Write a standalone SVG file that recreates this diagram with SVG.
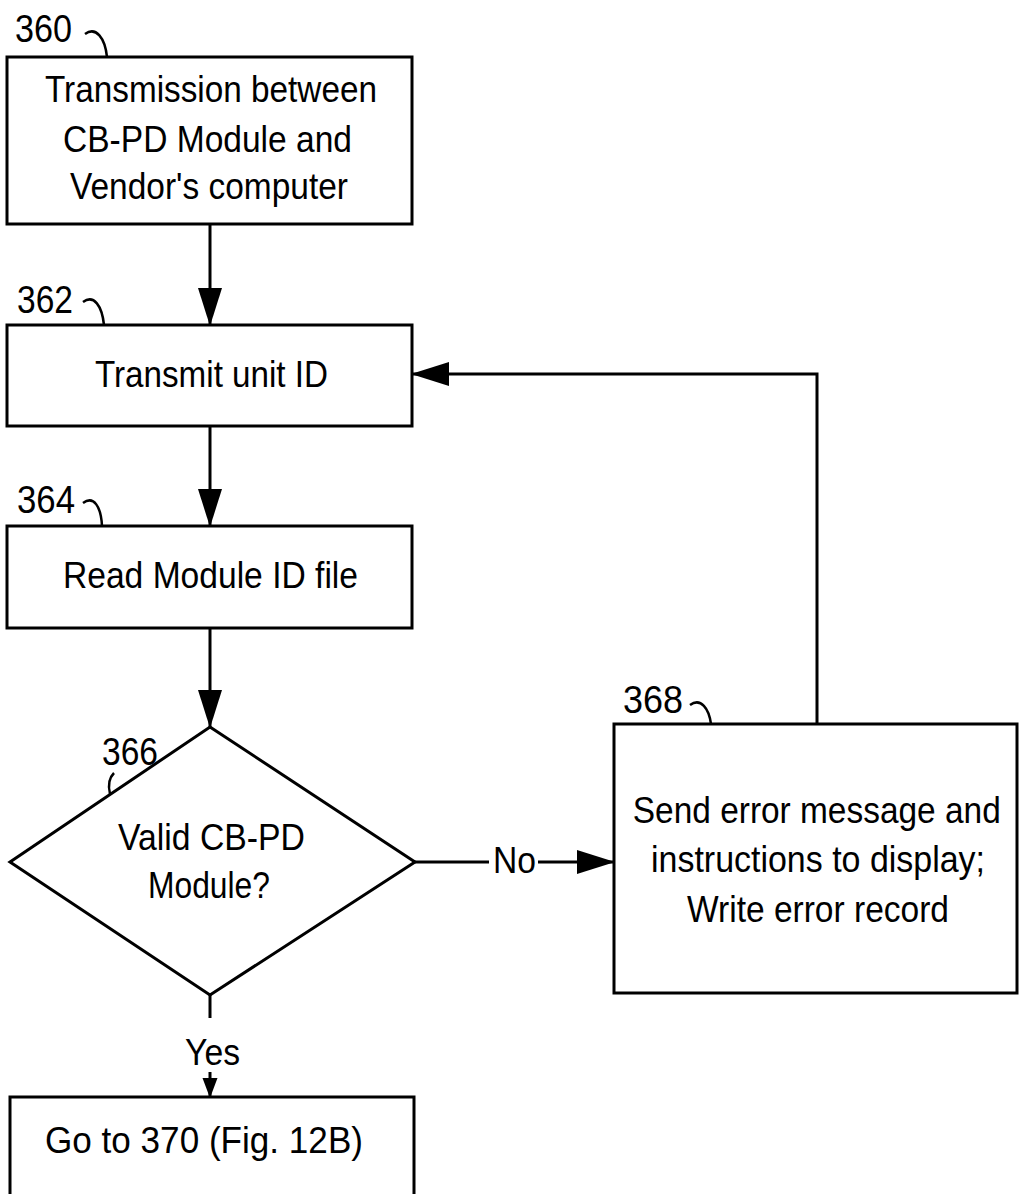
<svg xmlns="http://www.w3.org/2000/svg" width="1019" height="1194" viewBox="0 0 1019 1194">
<style>
.box{fill:#fff;stroke:#000;stroke-width:3}
.t{font-family:"Liberation Sans",Arial,sans-serif;font-size:37px;fill:#000}
.lbl{font-family:"Liberation Sans",Arial,sans-serif;font-size:39px;fill:#000}
.ld{fill:none;stroke:#000;stroke-width:2.5}
.c{fill:none;stroke:#000;stroke-width:3}
</style>
<defs>
<marker id="ah" markerUnits="userSpaceOnUse" markerWidth="38" markerHeight="26" viewBox="0 0 38 26" refX="37" refY="13" orient="auto"><path d="M0,1 L38,13 L0,25 Z" fill="#000"/></marker>
<marker id="ahs" markerUnits="userSpaceOnUse" markerWidth="20" markerHeight="16" viewBox="0 0 20 16" refX="19" refY="8" orient="auto"><path d="M0,0.5 L20,8 L0,15.5 Z" fill="#000"/></marker>
</defs>
<rect width="1019" height="1194" fill="#fff"/>

<g id="connectors">
<path class="c" d="M210,224 V325" marker-end="url(#ah)"/>
<path class="c" d="M210,426 V526" marker-end="url(#ah)"/>
<path class="c" d="M210,628 V727" marker-end="url(#ah)"/>
<path class="c" d="M415,862 H489"/>
<path class="c" d="M538,862 H614" marker-end="url(#ah)"/>
<text class="t" x="493" y="873" textLength="43" lengthAdjust="spacingAndGlyphs">No</text>
<path class="c" d="M817,724 V374 H412" marker-end="url(#ah)"/>
<path class="c" d="M210,995 V1018"/>
<text class="t" x="185" y="1065" textLength="55" lengthAdjust="spacingAndGlyphs">Yes</text>
<path class="c" d="M210,1072 V1097" marker-end="url(#ahs)"/>
</g>

<g id="n360">
<rect class="box" x="7" y="57" width="405" height="167"/>
<text class="lbl" x="15" y="42" textLength="57" lengthAdjust="spacingAndGlyphs">360</text>
<path class="ld" d="M85,34 C96,26 105,38 107,57"/>
<text class="t" x="45" y="102" textLength="332" lengthAdjust="spacingAndGlyphs">Transmission between</text>
<text class="t" x="63" y="152" textLength="289" lengthAdjust="spacingAndGlyphs">CB-PD Module and</text>
<text class="t" x="70" y="199" textLength="278" lengthAdjust="spacingAndGlyphs">Vendor's computer</text>
</g>

<g id="n362">
<rect class="box" x="7" y="325" width="405" height="101"/>
<text class="lbl" x="17" y="313" textLength="56" lengthAdjust="spacingAndGlyphs">362</text>
<path class="ld" d="M83,302 C94,294 102,306 104,325"/>
<text class="t" x="95" y="387" textLength="233" lengthAdjust="spacingAndGlyphs">Transmit unit ID</text>
</g>

<g id="n364">
<rect class="box" x="7" y="526" width="405" height="102"/>
<text class="lbl" x="17" y="513" textLength="58" lengthAdjust="spacingAndGlyphs">364</text>
<path class="ld" d="M83,503 C94,495 101,507 102,526"/>
<text class="t" x="63" y="588" textLength="295" lengthAdjust="spacingAndGlyphs">Read Module ID file</text>
</g>

<g id="n366">
<polygon class="box" points="210,727 415,862 210,995 10,862"/>
<text class="lbl" x="102" y="765" textLength="56" lengthAdjust="spacingAndGlyphs">366</text>
<path class="ld" d="M114,773 C109,778 108,786 110,794"/>
<text class="t" x="118" y="850" textLength="187" lengthAdjust="spacingAndGlyphs">Valid CB-PD</text>
<text class="t" x="148" y="898" textLength="122" lengthAdjust="spacingAndGlyphs">Module?</text>
</g>

<g id="n368">
<rect class="box" x="614" y="724" width="403" height="269"/>
<text class="lbl" x="623" y="713" textLength="60" lengthAdjust="spacingAndGlyphs">368</text>
<path class="ld" d="M690,705 C701,697 709,709 711,724"/>
<text class="t" transform="scale(0.904,1)" x="700" y="823">Send error message and</text>
<text class="t" x="651" y="872" textLength="334" lengthAdjust="spacingAndGlyphs">instructions to display;</text>
<text class="t" x="687" y="922" textLength="262" lengthAdjust="spacingAndGlyphs">Write error record</text>
</g>

<g id="n370">
<rect class="box" x="10" y="1097" width="404" height="110"/>
<text class="t" x="45" y="1153" textLength="318" lengthAdjust="spacingAndGlyphs">Go to 370 (Fig. 12B)</text>
</g>
</svg>
